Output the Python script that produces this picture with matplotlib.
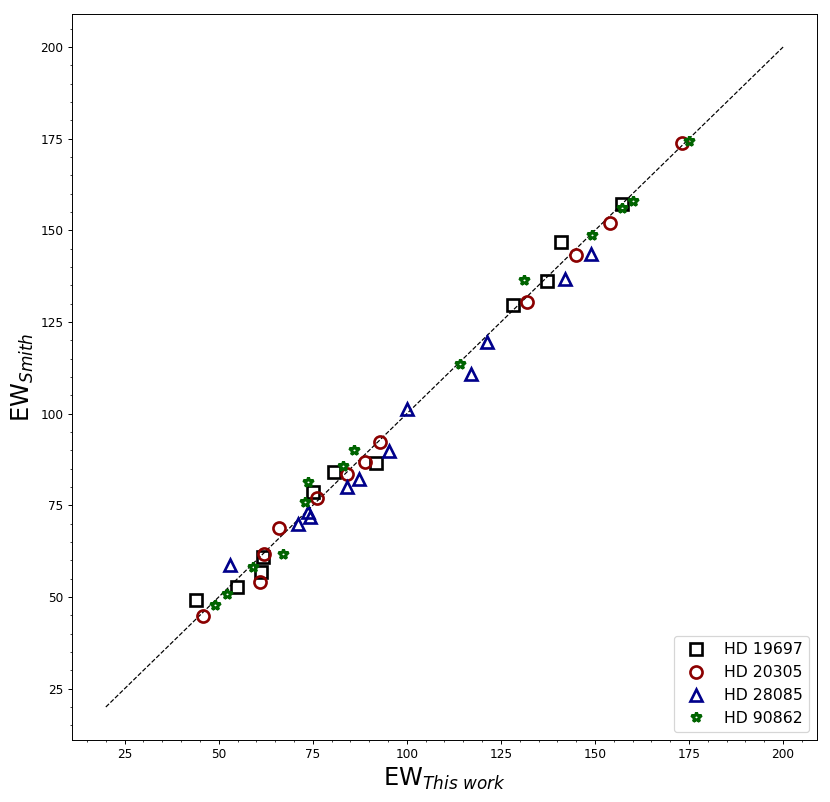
import numpy as np
import matplotlib
matplotlib.use("Agg")
import matplotlib.pyplot as plt

# equivalent widths (x = this work, y = Smith)
hd19697_x = [44.0, 54.8, 61.2, 61.7, 75.1, 80.6, 91.9, 128.1, 137.2, 141.1, 157.1]
hd19697_y = [49.3, 52.6, 56.9, 60.8, 78.6, 84.1, 86.6, 129.6, 136.1, 146.8, 157.3]

hd20305_x = [45.8, 61.0, 62.0, 66.0, 76.0, 84.0, 89.0, 92.9, 132.0, 145.0, 154.1, 173.1]
hd20305_y = [44.7, 54.2, 61.6, 68.8, 77.1, 83.6, 86.7, 92.2, 130.5, 143.2, 151.9, 173.7]

hd28085_x = [53.1, 71.1, 73.7, 74.2, 84.0, 87.3, 95.2, 100.0, 117.0, 121.2, 142.0, 149.0]
hd28085_y = [58.6, 69.8, 73.2, 71.8, 80.0, 82.2, 89.7, 101.3, 110.7, 119.5, 136.8, 143.6]

hd90862_x = [48.9, 52.1, 59.0, 67.1, 72.9, 73.8, 83.1, 85.9, 114.1, 131.1, 149.1, 157.1, 160.0, 175.1]
hd90862_y = [47.7, 50.9, 58.1, 61.6, 76.0, 81.3, 85.6, 90.2, 113.6, 136.5, 148.8, 156.0, 158.0, 174.4]

line_ends = [20, 200]

fig = plt.figure(figsize=(830 / 87, 802 / 87), dpi=87)
ax = fig.add_axes([0.0867, 0.0773, 0.8976, 0.9052])

ax.plot(line_ends, line_ends, 'k--', lw=1)
ax.plot(hd19697_x, hd19697_y, 's', ms=10, mfc='none', mec='black', mew=2.2,
        label='HD 19697')
ax.plot(hd20305_x, hd20305_y, 'o', ms=10, mfc='none', mec='darkred', mew=2.2,
        label='HD 20305')
ax.plot(hd28085_x, hd28085_y, '^', ms=10, mfc='none', mec='darkblue', mew=2.2,
        label='HD 28085')
ax.plot(hd90862_x, hd90862_y, '*', ms=9, mfc='none', mec='darkgreen', mew=2.5,
        label='HD 90862')

ax.set_xticks([25, 50, 75, 100, 125, 150, 175, 200])
ax.set_yticks([25, 50, 75, 100, 125, 150, 175, 200])
ax.minorticks_on()
ax.tick_params(labelsize=10)

ax.set_xlabel(r'EW$_{This\ work}$', fontsize=20)
ax.set_ylabel(r'EW$_{Smith}$', fontsize=20)
ax.legend(loc='lower right', fontsize=13)

fig.savefig('out.png', dpi=87)
